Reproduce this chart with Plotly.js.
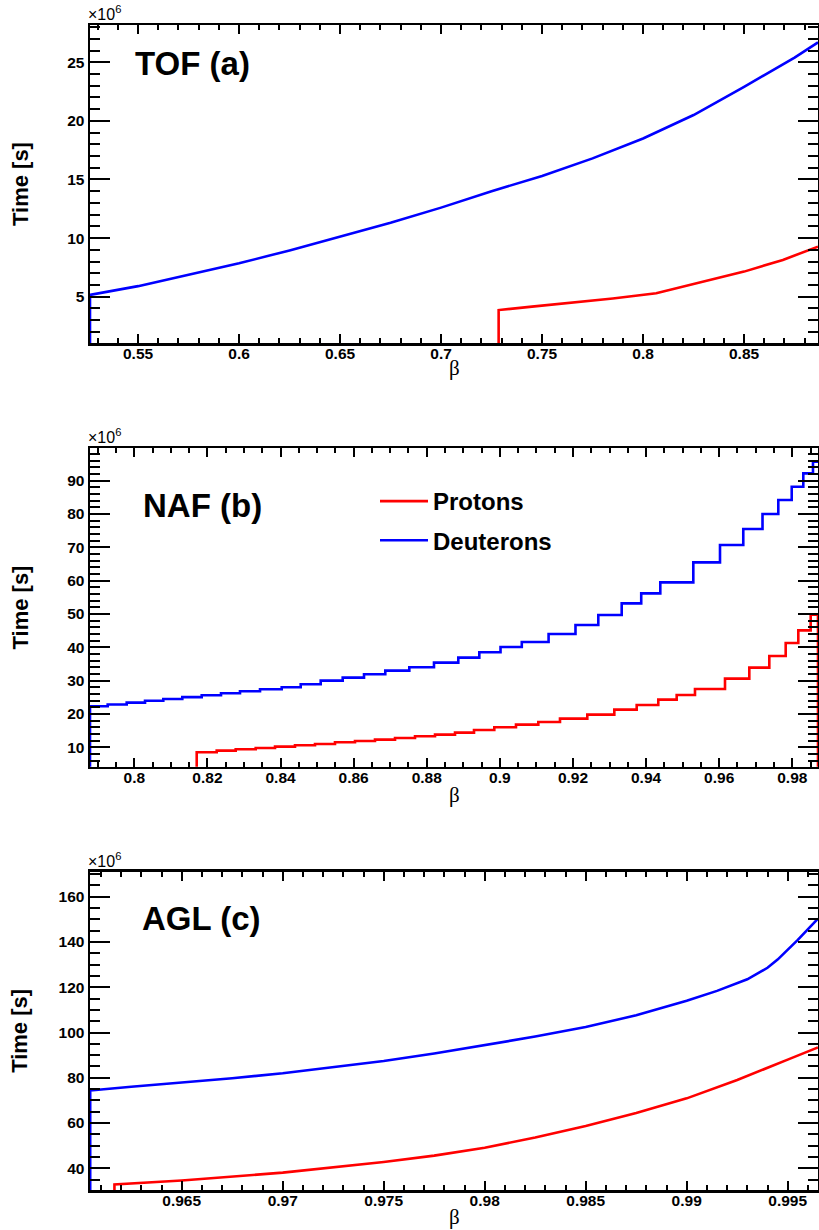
<!DOCTYPE html>
<html>
<head>
<meta charset="utf-8">
<script src="https://cdn.plot.ly/plotly-3.0.1.min.js"></script>
<style>html,body{margin:0;padding:0;background:#fff;}#chart{width:819px;height:1230px;}</style>
</head>
<body>
<div id="chart"></div>
<script>
// ---------------- data (values in units of 10^6 s) ----------------
// (a) TOF
const tofDeutBeta = [0.5262, 0.55, 0.575, 0.6, 0.625, 0.65, 0.675, 0.7, 0.725, 0.75, 0.775, 0.8, 0.825, 0.85, 0.875, 0.8866];
const tofDeutTime = [5.15, 5.9, 6.85, 7.85, 8.95, 10.1, 11.3, 12.6, 14.0, 15.3, 16.8, 18.5, 20.5, 22.9, 25.4, 26.7];
const tofProtBeta = [0.7285, 0.745, 0.762, 0.785, 0.8065, 0.8197, 0.8362, 0.85, 0.8692, 0.8866];
const tofProtTime = [3.86, 4.15, 4.43, 4.85, 5.29, 5.85, 6.57, 7.14, 8.14, 9.27];

// (b) NAF - histogram bin edges and contents
const nafProtEdges = [0.81707, 0.82254, 0.82774, 0.83321, 0.83849, 0.84396, 0.84943, 0.85490, 0.86037, 0.86584,
  0.87132, 0.87679, 0.88226, 0.88773, 0.89293, 0.89848, 0.90441, 0.91052, 0.91645, 0.92392, 0.93131, 0.93743,
  0.94334, 0.94837, 0.95338, 0.96159, 0.96824, 0.97371, 0.97819, 0.98164, 0.98503, 0.98703];
const nafProtTime = [8.5, 9.0, 9.4, 9.8, 10.2, 10.6, 11.0, 11.5, 11.9, 12.3, 12.8, 13.3, 13.8, 14.4, 15.2, 16.0,
  16.8, 17.6, 18.6, 19.8, 21.3, 22.7, 24.3, 25.7, 27.5, 30.6, 33.9, 37.4, 41.3, 45.1, 49.8];
const nafDeutEdges = [0.78788, 0.79272, 0.79792, 0.80293, 0.80793, 0.81313, 0.81844, 0.82372, 0.82891, 0.83439,
  0.84032, 0.84552, 0.85099, 0.85701, 0.86284, 0.86866, 0.87523, 0.88198, 0.88863, 0.89438, 0.90018, 0.90600,
  0.91333, 0.92069, 0.92693, 0.93333, 0.93867, 0.94389, 0.95292, 0.96022, 0.96659, 0.97185, 0.97617, 0.97984,
  0.98301, 0.98566, 0.98703];
const nafDeutTime = [22.3, 22.85, 23.4, 23.95, 24.5, 25.05, 25.6, 26.2, 26.8, 27.4, 28.0, 28.9, 30.0, 30.9, 31.9,
  33.0, 34.0, 35.4, 36.9, 38.5, 40.1, 41.6, 44.0, 46.7, 49.7, 53.2, 56.2, 59.5, 65.5, 70.7, 75.5, 80.0, 84.2,
  88.2, 92.2, 95.7];

// (c) AGL
const aglDeutBeta = [0.96047, 0.9625, 0.965, 0.9675, 0.97, 0.9725, 0.975, 0.9775, 0.98, 0.9825, 0.985, 0.9875, 0.99, 0.9915, 0.993, 0.994, 0.9945, 0.995, 0.9955, 0.9965];
const aglDeutTime = [74.4, 76.0, 77.8, 79.8, 82.0, 84.6, 87.4, 90.7, 94.3, 98.2, 102.4, 107.6, 114.0, 118.4, 123.5, 128.6, 132.2, 136.6, 140.9, 150.3];
const aglProtBeta = [0.96167, 0.965, 0.97, 0.975, 0.9775, 0.98, 0.9825, 0.985, 0.9875, 0.99, 0.9925, 0.995, 0.9965];
const aglProtTime = [32.9, 34.6, 38.1, 42.8, 45.6, 49.1, 53.6, 58.7, 64.4, 70.9, 79.0, 88.0, 93.4];

const seriesNames = ['Protons', 'Deuterons'];
const panelLabels = ['TOF (a)', 'NAF (b)', 'AGL (c)'];
const xTitle = 'β';
const yTitle = 'Time [s]';
const expLabel = '×10<sup>6</sup>';

// ---------------- helpers ----------------
const W = 819, H = 1230;
const px = x => x / W;
const py = y => 1 - y / H;
const SANS = 'Liberation Sans, Arial, Helvetica, sans-serif';
const RED = '#ff0000', BLUE = '#0000ff';
const LW = 2.6;

function curve(beta, t, color, xa, ya, name) {
  // start with vertical rise from the floor, like a ROOT histogram
  return {x: [beta[0]].concat(beta), y: [0].concat(t), type: 'scatter', mode: 'lines',
    line: {color: color, width: LW}, xaxis: xa, yaxis: ya, name: name, showlegend: false, hoverinfo: 'skip'};
}
function stepHist(edges, vals, color, xa, ya, name, dropEnd, group) {
  const xs = [edges[0]], ys = [0];
  for (let i = 0; i < vals.length; i++) { xs.push(edges[i]); ys.push(vals[i]); }
  xs.push(edges[edges.length - 1]); ys.push(vals[vals.length - 1]);
  if (dropEnd) { xs.push(edges[edges.length - 1]); ys.push(0); }
  return {x: xs, y: ys, type: 'scatter', mode: 'lines', line: {color: color, width: LW, shape: 'hv'},
    xaxis: xa, yaxis: ya, name: name, showlegend: true, legendgroup: group, hoverinfo: 'skip'};
}

const traces = [
  curve(tofDeutBeta, tofDeutTime, BLUE, 'x', 'y', seriesNames[1]),
  curve(tofProtBeta, tofProtTime, RED, 'x', 'y', seriesNames[0]),
  stepHist(nafProtEdges, nafProtTime, RED, 'x2', 'y2', seriesNames[0], true, 'g1'),
  stepHist(nafDeutEdges, nafDeutTime, BLUE, 'x2', 'y2', seriesNames[1], false, 'g2'),
  curve(aglDeutBeta, aglDeutTime, BLUE, 'x3', 'y3', seriesNames[1]),
  curve(aglProtBeta, aglProtTime, RED, 'x3', 'y3', seriesNames[0])
];

// panel frames in pixels: [top, bottom]
const frames = [[25, 343], [448.3, 766.7], [871.7, 1190]];
const xLeft = 90, xRight = 818;

function xax(range, dtick, tick0, mdtick, anchor) {
  return {domain: [px(xLeft), px(xRight)], range: range, anchor: anchor, dtick: dtick, tick0: tick0,
    showline: true, linecolor: '#000', linewidth: 2.5, mirror: 'allticks', ticks: 'inside', ticklen: 9,
    tickwidth: 2, tickcolor: '#000', showgrid: false, zeroline: false, ticklabelstandoff: -5,
    tickfont: {family: SANS, size: 15.5, color: '#000', weight: 'bold'},
    minor: {ticks: 'inside', ticklen: 5, tickwidth: 2, tickcolor: '#000', dtick: mdtick, showgrid: false}};
}
function yax(range, dtick, mdtick, frame, anchor) {
  return {domain: [py(frame[1]), py(frame[0])], range: range, anchor: anchor, dtick: dtick, tick0: 0,
    showline: true, linecolor: '#000', linewidth: 2.5, mirror: 'allticks', ticks: 'inside', ticklen: 20,
    tickwidth: 2, tickcolor: '#000', showgrid: false, zeroline: false,
    tickfont: {family: SANS, size: 15.5, color: '#000', weight: 'bold'},
    minor: {ticks: 'inside', ticklen: 10, tickwidth: 2, tickcolor: '#000', dtick: mdtick, showgrid: false}};
}

const annotations = [];
const labelCenters = [61.7, 503.3, 916];
const labelLeft = [135, 142.7, 141.7];
const betaBottoms = [381, 808, 1230];
frames.forEach((f, i) => {
  annotations.push({xref: 'paper', yref: 'paper', x: px(87), y: py(f[0] - 1), xanchor: 'left', yanchor: 'bottom',
    text: expLabel, showarrow: false, font: {family: SANS, size: 16, color: '#000'}, borderpad: 0});
  annotations.push({xref: 'paper', yref: 'paper', x: px(labelLeft[i] - 2), y: py(labelCenters[i] + 2), xanchor: 'left', yanchor: 'middle',
    text: panelLabels[i], showarrow: false, font: {family: SANS, size: 33, color: '#000', weight: 'bold'}});
  annotations.push({xref: 'paper', yref: 'paper', x: px(20), y: py((f[0] + f[1]) / 2), xanchor: 'center', yanchor: 'middle',
    text: yTitle, textangle: -90, showarrow: false, font: {family: SANS, size: 22, color: '#000', weight: 'bold'}});
  annotations.push({xref: 'paper', yref: 'paper', x: px((xLeft + xRight) / 2), y: py(betaBottoms[i]), xanchor: 'center', yanchor: 'bottom',
    text: xTitle, showarrow: false, font: {family: 'Liberation Serif, Times New Roman, serif', size: 21, color: '#000'}, borderpad: 0});
});

const layout = {
  width: W, height: H, margin: {l: 0, r: 0, t: 0, b: 0},
  paper_bgcolor: '#fff', plot_bgcolor: '#fff',
  xaxis: xax([0.5262, 0.8866], 0.05, 0.5, 0.01, 'y'),
  yaxis: yax([1.05, 28.18], 5, 1, frames[0], 'x'),
  xaxis2: xax([0.78788, 0.98703], 0.02, 0.8, 0.005, 'y2'),
  yaxis2: yax([4.18, 99.72], 10, 2, frames[1], 'x2'),
  xaxis3: xax([0.96046, 0.9965], 0.005, 0.96, 0.001, 'y3'),
  yaxis3: yax([30.41, 171.05], 20, 5, frames[2], 'x3'),
  showlegend: true,
  legend: {x: px(375), y: py(479), xanchor: 'left', yanchor: 'top', bgcolor: 'rgba(0,0,0,0)', borderwidth: 0,
    font: {family: SANS, size: 24, color: '#000', weight: 'bold'}, itemwidth: 48, traceorder: 'grouped', tracegroupgap: 5},
  annotations: annotations
};

Plotly.newPlot('chart', traces, layout, {staticPlot: true, displayModeBar: false});
</script>
</body>
</html>
